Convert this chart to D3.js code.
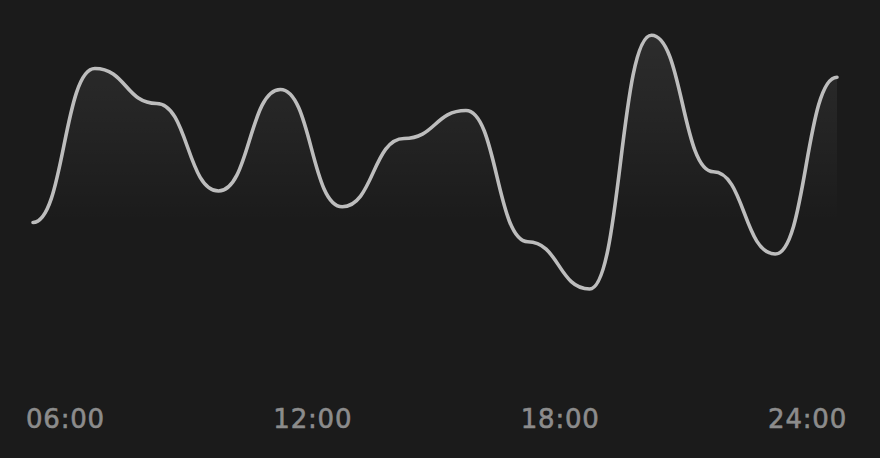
<!DOCTYPE html>
<html>
<head>
<meta charset="utf-8">
<script src="https://cdn.jsdelivr.net/npm/d3@7"></script>
<style>
  html, body { margin: 0; padding: 0; background: #1b1b1b; }
  svg { display: block; }
</style>
</head>
<body>
<svg id="chart" width="880" height="458"></svg>
<script>
// readings, one every 1.5 hours
var hours  = [5.25, 6.75, 8.25, 9.75, 11.25, 12.75, 14.25, 15.75, 17.25, 18.75, 20.25, 21.75, 23.25, 24.75];
var values = [45, 89, 79, 54, 83, 49.5, 69, 77, 39.5, 26, 98.5, 59.5, 36, 86.5];
var tickHours  = [6, 12, 18, 24];
var tickLabels = ["06:00", "12:00", "18:00", "24:00"];

var svg = d3.select("#chart");

var x = d3.scaleLinear().domain([5.25, 24.75]).range([33, 837]);
var y = d3.scaleLinear().domain([0, 100]).range([380, 30]);

var data = hours.map(function(h, i) { return {h: h, v: values[i]}; });

var grad = svg.append("defs").append("linearGradient")
    .attr("id", "fade")
    .attr("gradientUnits", "userSpaceOnUse")
    .attr("x1", 0).attr("x2", 0)
    .attr("y1", y(100)).attr("y2", y(45));
grad.append("stop").attr("offset", "0%").attr("stop-color", "#ffffff").attr("stop-opacity", 0.08);
grad.append("stop").attr("offset", "100%").attr("stop-color", "#ffffff").attr("stop-opacity", 0);

var area = d3.area()
    .x(function(d) { return x(d.h); })
    .y0(y(0))
    .y1(function(d) { return y(d.v); })
    .curve(d3.curveBumpX);

var line = d3.line()
    .x(function(d) { return x(d.h); })
    .y(function(d) { return y(d.v); })
    .curve(d3.curveBumpX);

svg.append("path")
    .datum(data)
    .attr("d", area)
    .attr("fill", "url(#fade)");

svg.append("path")
    .datum(data)
    .attr("d", line)
    .attr("fill", "none")
    .attr("stroke", "#bdbdbd")
    .attr("stroke-width", 3.6)
    .attr("stroke-linecap", "round");

var axis = d3.axisBottom(x)
    .tickValues(tickHours)
    .tickFormat(function(d, i) { return tickLabels[i]; })
    .tickSize(0)
    .tickPadding(0);

var gx = svg.append("g")
    .attr("transform", "translate(1,428)")
    .call(axis);
gx.select(".domain").remove();
gx.selectAll("text")
    .attr("fill", "#8c8c8c")
    .attr("stroke", "#8c8c8c")
    .attr("stroke-width", 0.6)
    .attr("dy", 0)
    .style("font-family", "'DejaVu Sans', sans-serif")
    .style("font-size", "26px")
    .style("letter-spacing", "0.8px");
</script>
</body>
</html>
